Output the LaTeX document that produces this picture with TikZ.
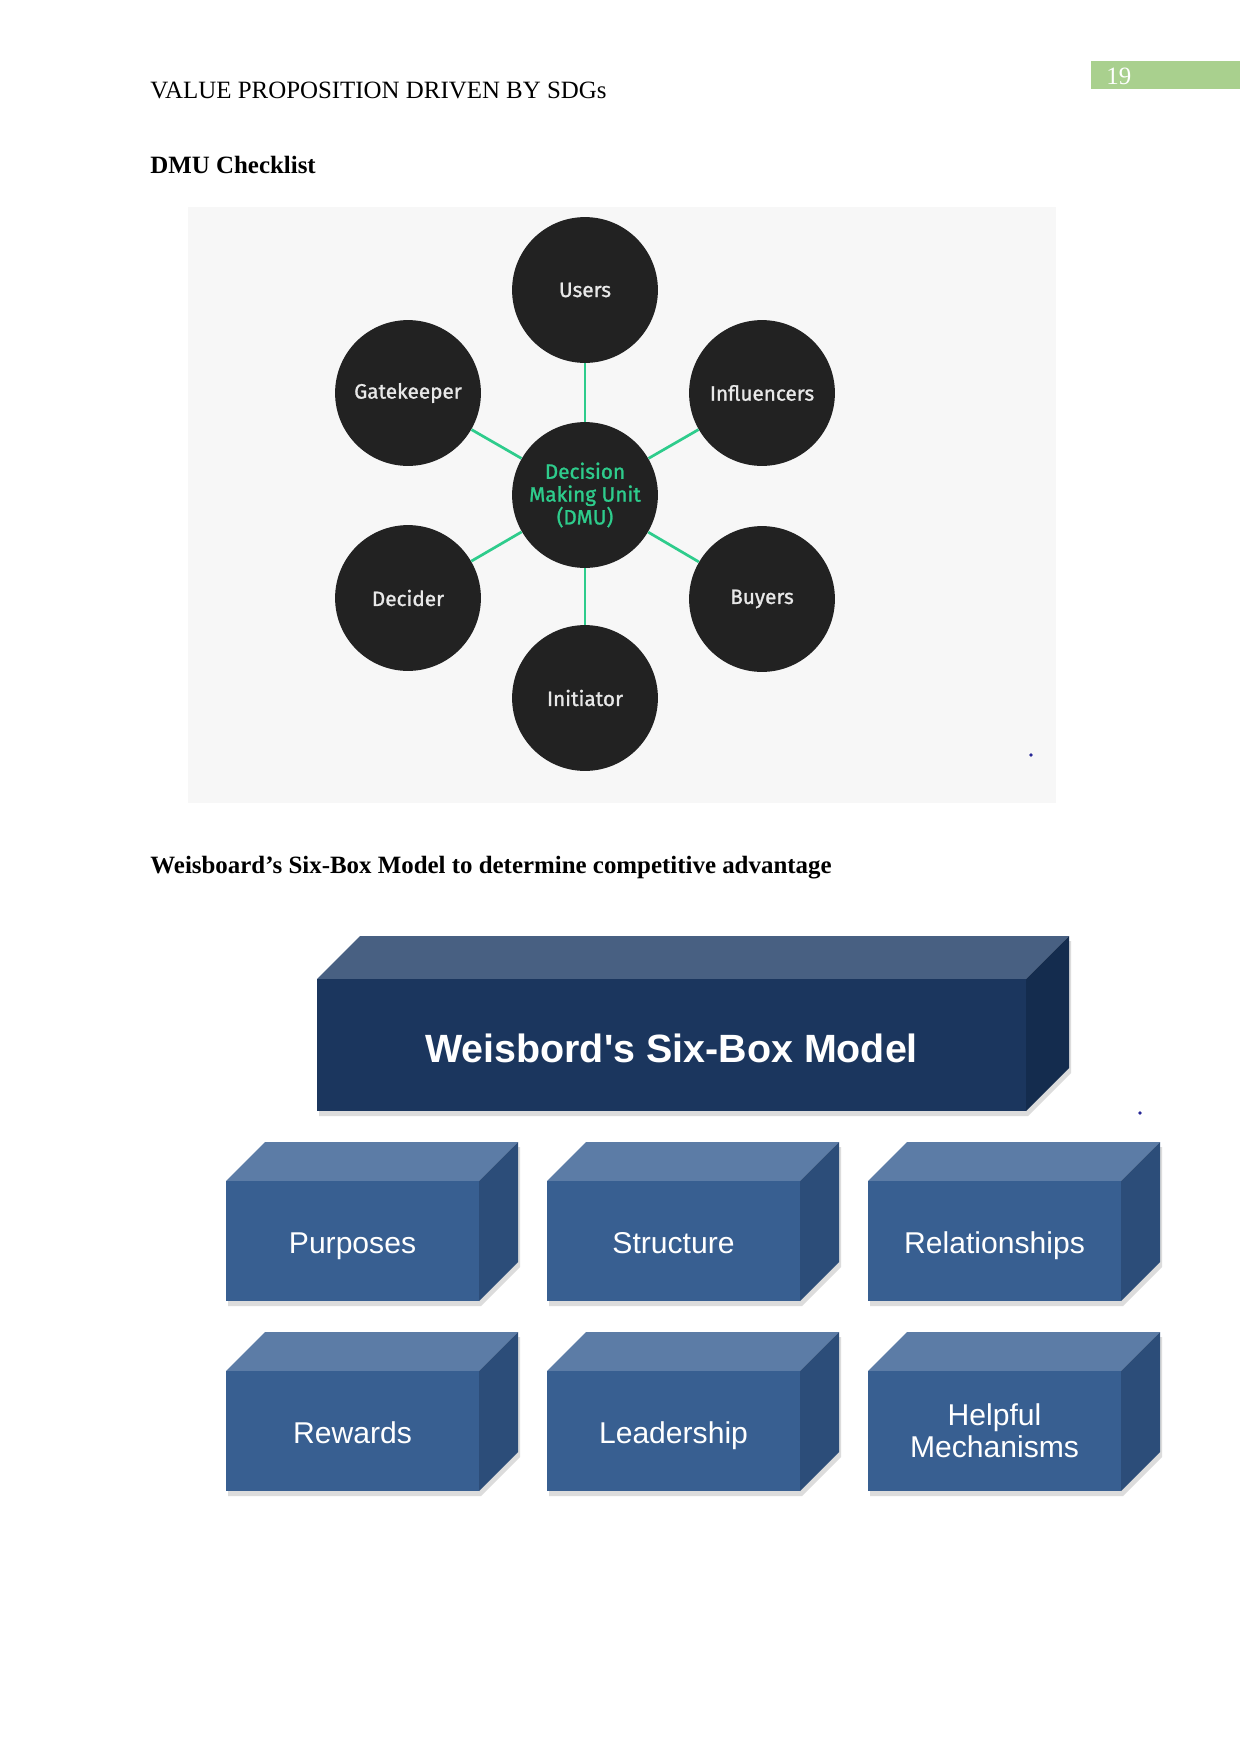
\documentclass[tikz,border=0pt]{standalone}
\usepackage{fontspec}
\setmainfont{Liberation Serif}
\newfontfamily\arialfont{Liberation Sans}
\newfontfamily\dmufont{Fira Sans}[FakeBold=1.2]
\definecolor{pagegreen}{RGB}{169,208,142}
\definecolor{dmubg}{RGB}{247,247,247}
\definecolor{dmudark}{RGB}{34,34,34}
\definecolor{dmugreen}{RGB}{46,204,140}
\definecolor{dmutext}{RGB}{232,232,232}
\definecolor{bigfront}{RGB}{27,54,94}
\definecolor{bigtop}{RGB}{72,96,130}
\definecolor{bigside}{RGB}{20,44,78}
\definecolor{smfront}{RGB}{56,95,145}
\definecolor{smtop}{RGB}{92,124,166}
\definecolor{smside}{RGB}{44,77,121}
\definecolor{boxshadow}{RGB}{220,220,220}
\definecolor{dotblue}{RGB}{40,40,150}
\newcommand{\sbstrut}{\rule{0pt}{14.8pt}\vphantom{p}}
\newcommand{\tbstrut}{\rule{0pt}{16.8pt}}
\tikzset{
  dmucircle/.style={circle, fill=dmudark, minimum size=70bp, inner sep=0pt,
    text=dmutext, font=\dmufont\fontsize{10}{11}\selectfont, align=center},
  dmulink/.style={draw=dmugreen, line width=1.3bp},
  bigfront/.style={fill=bigfront, text=white, inner sep=0pt,
    font=\arialfont\bfseries\fontsize{19}{22}\selectfont},
  bigtop/.style={fill=bigtop},
  bigside/.style={fill=bigside},
  smfront/.style={fill=smfront, text=white, inner sep=0pt, align=center,
    font=\arialfont\fontsize{14.5}{15.6}\selectfont},
  smtop/.style={fill=smtop},
  smside/.style={fill=smside},
  plaintext/.style={anchor=base west, inner sep=0pt, font=\fontsize{12}{14}\selectfont},
  boldtext/.style={anchor=base west, inner sep=0pt, font=\bfseries\fontsize{12}{14}\selectfont}
}
% #1 name, #2 x left, #3 y top (front face), #4 width, #5 height, #6 depth, #7 text, #8 style prefix
\newcommand{\wbbox}[8]{%
  \fill[boxshadow] (#2+2,#3+#5+5) -- (#2+#4+2,#3+#5+5) -- (#2+#4+#6+2,#3+#5-#6+5)
     -- (#2+#4+#6+2,#3-#6+5) -- (#2+#6+2,#3-#6+5) -- (#2+2,#3+5) -- cycle;
  \fill[#8top] (#2,#3) -- (#2+#6,#3-#6) -- (#2+#4+#6,#3-#6) -- (#2+#4,#3) -- cycle;
  \fill[#8side] (#2+#4,#3) -- (#2+#4+#6,#3-#6) -- (#2+#4+#6,#3+#5-#6) -- (#2+#4,#3+#5) -- cycle;
  \node[#8front, minimum width={#4*0.48bp}, minimum height={#5*0.48bp}] (#1)
     at (#2+#4/2,#3+#5/2) {#7};
}
\begin{document}
\begin{tikzpicture}[x=0.48bp,y=-0.48bp]
\useasboundingbox[fill=white] (0,0) rectangle (1241,1754);

% header
\node[plaintext] (hdr) at (150,98) {VALUE PROPOSITION DRIVEN BY SDGs};
\node[fill=pagegreen, anchor=north west, minimum width=71.5bp, minimum height=13bp, inner sep=0pt] (pgbox) at (1091,61) {};
\node[plaintext, text=white] (pgnum) at (1106,84) {19};

% DMU heading
\node[boldtext] (h1) at (150,173) {DMU Checklist};

% DMU picture
\fill[dmubg] (188,207) rectangle (1056,803);
\node[dmucircle, text=dmugreen] (dmu) at (585,495) {Decision\\Making Unit\\(DMU)};
\node[dmucircle] (users) at (585,290) {Users};
\node[dmucircle] (gate) at (408,393) {Gatekeeper};
\node[dmucircle] (infl) at (762,393) {Influencers};
\node[dmucircle] (decider) at (408,598) {Decider};
\node[dmucircle] (buyers) at (762,599) {Buyers};
\node[dmucircle] (init) at (585,698) {Initiator};
\foreach \n in {users,gate,infl,decider,buyers,init}
  \draw[dmulink] (dmu) -- (\n);
\fill[dotblue] (1031,755) circle (1.8);

% second heading
\node[boldtext] (h2) at (150,873) {Weisboard’s Six-Box Model to determine competitive advantage};

% Six-box model
\wbbox{title}{317}{979}{709}{132}{43}{\tbstrut Weisbord's Six-Box Model}{big}
\fill[dotblue] (1140,1113) circle (1.8);

\wbbox{purposes}{226}{1181}{253}{120}{39}{\sbstrut Purposes}{sm}
\wbbox{structure}{547}{1181}{253}{120}{39}{\sbstrut Structure}{sm}
\wbbox{relations}{868}{1181}{253}{120}{39}{\sbstrut Relationships}{sm}
\wbbox{rewards}{226}{1371}{253}{120}{39}{\sbstrut Rewards}{sm}
\wbbox{leadership}{547}{1371}{253}{120}{39}{\sbstrut Leadership}{sm}
\wbbox{helpful}{868}{1371}{253}{120}{39}{Helpful\\Mechanisms}{sm}
\end{tikzpicture}
\end{document}
